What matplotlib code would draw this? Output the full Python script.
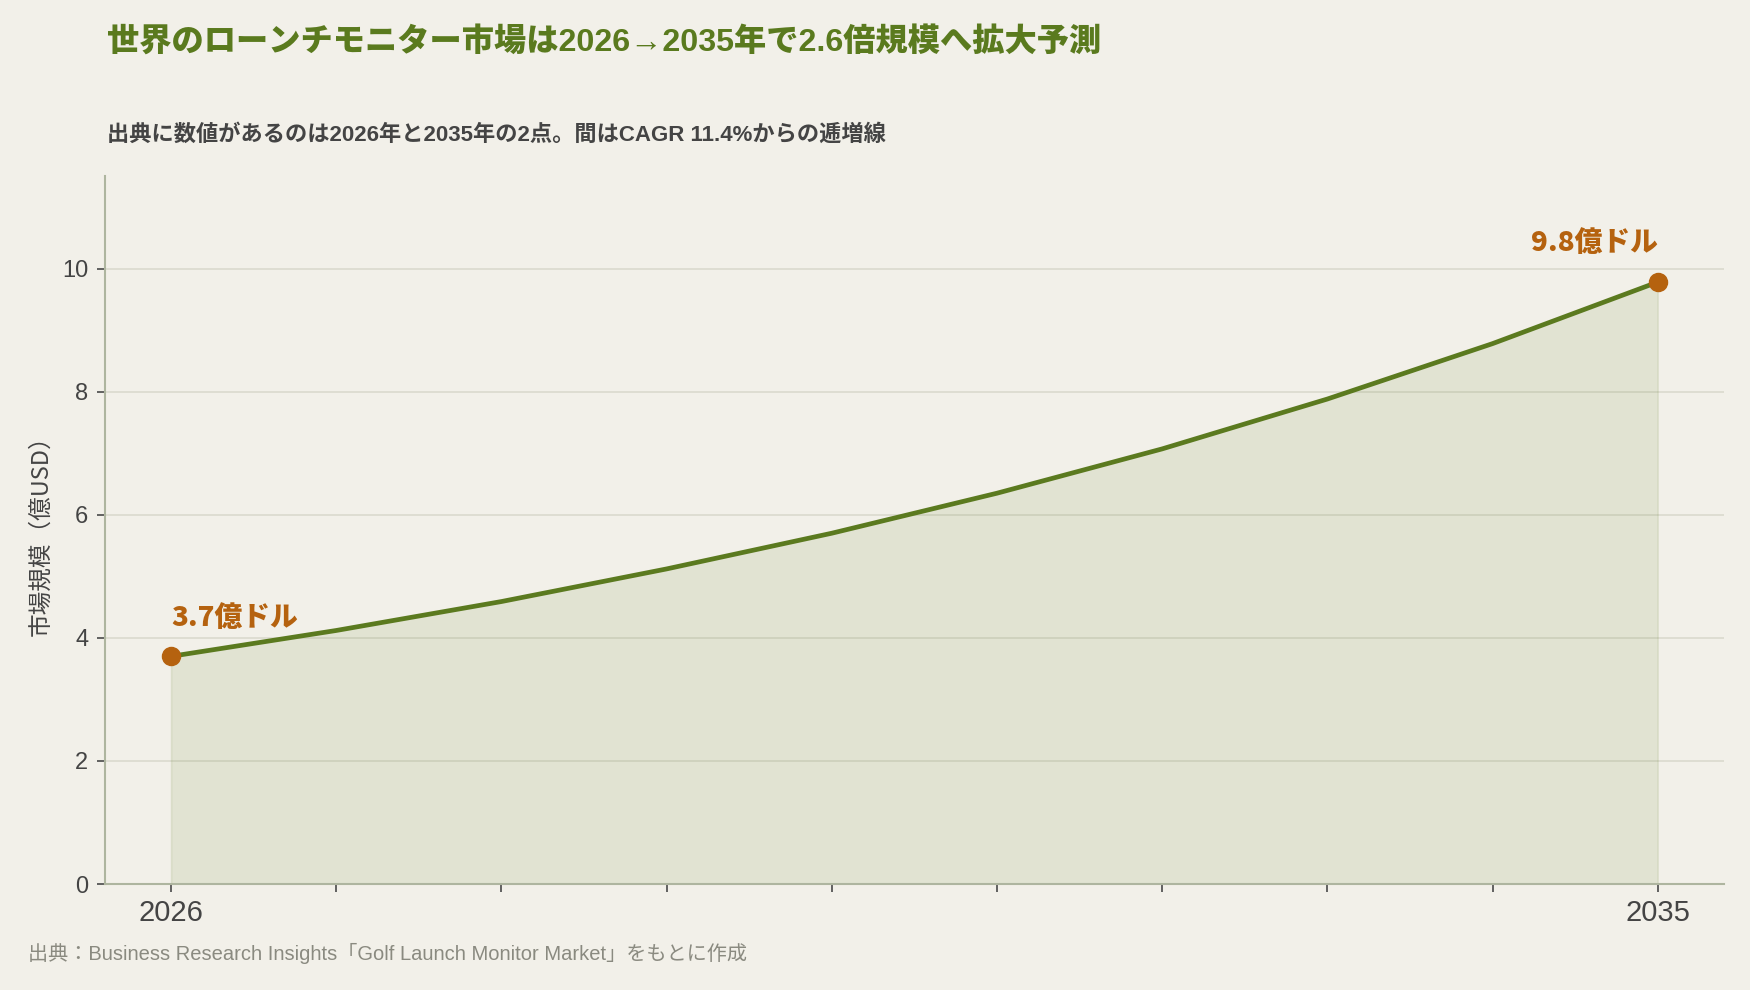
import matplotlib
matplotlib.use("Agg")
import matplotlib.pyplot as plt

plt.rcParams['font.family'] = ['Liberation Sans', 'Noto Sans CJK JP', 'DejaVu Sans']

years = [2026, 2027, 2028, 2029, 2030, 2031, 2032, 2033, 2034, 2035]
values = [3.7, 4.12, 4.59, 5.12, 5.70, 6.35, 7.07, 7.88, 8.78, 9.78]
xtick_labels = ['2026', '', '', '', '', '', '', '', '', '2035']
yticks = [0, 2, 4, 6, 8, 10]
start_label = '3.7億ドル'
end_label = '9.8億ドル'

title = '世界のローンチモニター市場は2026→2035年で2.6倍規模へ拡大予測'
subtitle = '出典に数値があるのは2026年と2035年の2点。間はCAGR 11.4%からの逓増線'
source = '出典：Business Research Insights「Golf Launch Monitor Market」をもとに作成'
ylabel = '市場規模（億USD）'

BG = '#f2f0e9'
GREEN = '#5b7a1f'
ORANGE = '#b5620f'
SPINE = '#aeb59f'
CJK = ['Noto Sans CJK JP', 'DejaVu Sans']

fig = plt.figure(figsize=(17.5, 9.9), dpi=100, facecolor=BG)
ax = fig.add_axes([0.06, 0.107, 0.925, 0.715], facecolor=BG)

ax.fill_between(years, values, 0, color=GREEN, alpha=0.11, linewidth=1.2,
                edgecolor=(0.36, 0.48, 0.12, 0.15), zorder=1)
ax.plot(years, values, color=GREEN, linewidth=3.4, zorder=3, solid_capstyle='round')
ax.plot([years[0], years[-1]], [values[0], values[-1]], 'o', color=ORANGE,
        markersize=13, zorder=4)

ax.annotate(start_label, (years[0], values[0]), xytext=(0, 28), textcoords='offset points',
            ha='left', va='center', fontsize=20, fontweight='heavy', color=ORANGE, family=CJK)
ax.annotate(end_label, (years[-1], values[-1]), xytext=(0, 28), textcoords='offset points',
            ha='right', va='center', fontsize=20, fontweight='heavy', color=ORANGE, family=CJK)

ax.set_xlim(2025.6, 2035.4)
ax.set_ylim(0, 11.5)
ax.set_xticks(years)
ax.set_xticklabels(xtick_labels, fontsize=21, color='#444444')
ax.set_yticks(yticks)
ax.set_yticklabels([str(v) for v in yticks], fontsize=17, color='#444444')
ax.tick_params(axis='x', length=6, width=1.3, color='#555555', pad=5)
ax.tick_params(axis='y', length=6, width=1.3, color='#555555', pad=6)

ax.grid(axis='y', color='#d8d8cc', linewidth=1.1, zorder=0)
ax.set_axisbelow(True)
for s in ['top', 'right']:
    ax.spines[s].set_visible(False)
for s in ['left', 'bottom']:
    ax.spines[s].set_color(SPINE)
    ax.spines[s].set_linewidth(1.5)

ax.set_ylabel(ylabel, fontsize=17, color='#444444', labelpad=7, family=CJK)

fig.text(0.061, 0.957, title, fontsize=23.2, fontweight='heavy', color='#5a7a1e', va='center', ha='left')
fig.text(0.061, 0.864, subtitle, fontsize=16, fontweight='bold', color='#444444', va='center', ha='left')
fig.text(0.016, 0.037, source, fontsize=14.5, color='#8a8a80', va='center', ha='left')

fig.savefig('out.png', dpi=100, facecolor=BG)
